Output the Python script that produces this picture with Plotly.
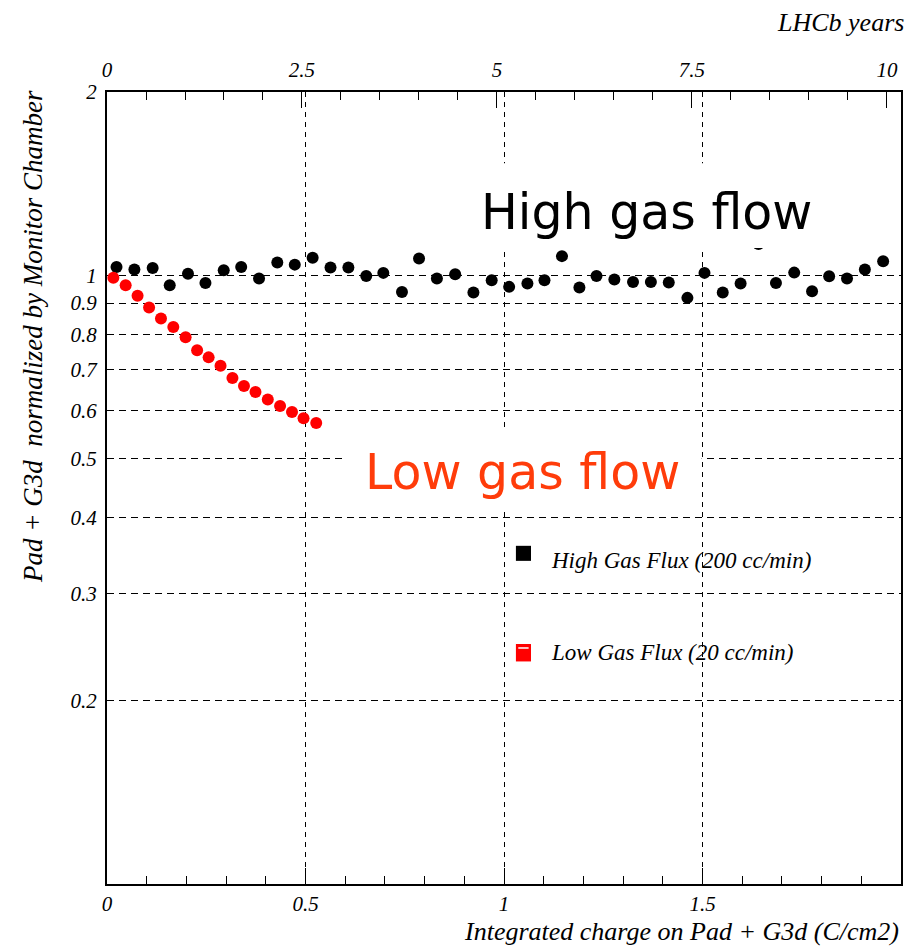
import plotly.graph_objects as go

# Integrated charge (C/cm2) and normalized response, high gas flux run
high_charge = [0.024, 0.069, 0.115, 0.158, 0.204, 0.248, 0.294, 0.338, 0.383, 0.429,
               0.473, 0.518, 0.563, 0.608, 0.653, 0.696, 0.743, 0.786, 0.831, 0.877,
               0.923, 0.969, 1.013, 1.059, 1.102, 1.146, 1.190, 1.233, 1.278, 1.325,
               1.370, 1.415, 1.462, 1.505, 1.551, 1.596, 1.641, 1.685, 1.731, 1.776,
               1.819, 1.864, 1.909, 1.955]
high_ratio = [1.032, 1.022, 1.028, 0.963, 1.006, 0.971, 1.019, 1.032, 0.988, 1.049,
              1.041, 1.068, 1.030, 1.030, 0.997, 1.009, 0.939, 1.065, 0.988, 1.004,
              0.937, 0.981, 0.957, 0.969, 0.981, 1.075, 0.955, 0.997, 0.984, 0.975,
              0.975, 0.973, 0.918, 1.009, 0.937, 0.969, 1.125, 0.971, 1.010, 0.941,
              0.996, 0.988, 1.022, 1.054]

# Low gas flux run
low_charge = [0.016, 0.047, 0.077, 0.106, 0.136, 0.167, 0.198, 0.227, 0.256, 0.286,
              0.316, 0.345, 0.374, 0.405, 0.436, 0.466, 0.495, 0.527]
low_ratio = [0.991, 0.963, 0.925, 0.885, 0.849, 0.822, 0.791, 0.753, 0.733, 0.710,
             0.678, 0.658, 0.643, 0.625, 0.610, 0.596, 0.582, 0.572]

x_ticks = [0, 0.5, 1, 1.5, 2]
x_ticklabels = ["0", "0.5", "1", "1.5", "2"]
y_ticks = [0.2, 0.3, 0.4, 0.5, 0.6, 0.7, 0.8, 0.9, 1, 2]
y_ticklabels = ["0.2", "0.3", "0.4", "0.5", "0.6", "0.7", "0.8", "0.9", "1", "2"]
year_ticks = [0, 2.5, 5, 7.5, 10]
year_ticklabels = ["0", "2.5", "5", "7.5", "10"]

legend_labels = ["High Gas Flux (200 cc/min)", "Low Gas Flux (20 cc/min)"]

SERIF = "Liberation Serif"
tick_font = dict(family=SERIF, size=21, color="black", style="italic")
title_font = dict(family=SERIF, size=26, color="black", style="italic")
legend_font = dict(family=SERIF, size=23, color="black", style="italic")

fig = go.Figure()
fig.add_trace(go.Scatter(x=high_charge, y=high_ratio, mode="markers",
                         marker=dict(symbol="circle", size=12, color="black"),
                         showlegend=False))
fig.add_trace(go.Scatter(x=low_charge, y=low_ratio, mode="markers",
                         marker=dict(symbol="circle", size=12, color="#ff0000"),
                         showlegend=False))
# empty companion trace so the top "LHCb years" axis is drawn
fig.add_trace(go.Scatter(x=year_ticks, y=[None] * len(year_ticks), xaxis="x2",
                         mode="markers", showlegend=False, hoverinfo="skip"))

shapes = [
    # white label panels sitting over the grid
    dict(type="rect", xref="paper", yref="paper", x0=0.456, x1=0.908, y0=0.803, y1=0.910,
         fillcolor="white", line=dict(width=0), layer="above"),
    dict(type="rect", xref="paper", yref="paper", x0=0.302, x1=0.749, y0=0.470, y1=0.577,
         fillcolor="white", line=dict(width=0), layer="above"),
    # legend swatches
    dict(type="rect", xref="paper", yref="paper", x0=0.515, x1=0.534, y0=0.408, y1=0.427,
         fillcolor="black", line=dict(width=0), layer="above"),
    dict(type="rect", xref="paper", yref="paper", x0=0.515, x1=0.534, y0=0.281, y1=0.303,
         fillcolor="#ff0000", line=dict(width=0), layer="above"),
    dict(type="line", xref="paper", yref="paper", x0=0.518, x1=0.531, y0=0.298, y1=0.298,
         line=dict(color="white", width=1.5), layer="above"),
]

annotations = [
    dict(text="High gas flow", xref="paper", yref="paper", x=0.680, y=0.848,
         xanchor="center", yanchor="middle", showarrow=False,
         font=dict(family="DejaVu Sans", size=49, color="black")),
    dict(text="Low gas flow", xref="paper", yref="paper", x=0.523, y=0.520,
         xanchor="center", yanchor="middle", showarrow=False,
         font=dict(family="DejaVu Sans", size=49, color="#ff3c0a")),
    dict(text=legend_labels[0], xref="paper", yref="paper", x=0.557, y=0.408,
         xanchor="left", yanchor="middle", showarrow=False, font=legend_font),
    dict(text=legend_labels[1], xref="paper", yref="paper", x=0.557, y=0.292,
         xanchor="left", yanchor="middle", showarrow=False, font=legend_font),
    dict(text="LHCb years", xref="paper", yref="paper", x=1.006, y=1.088,
         xanchor="right", yanchor="middle", showarrow=False, font=title_font),
    dict(text="Integrated charge on Pad + G3d (C/cm2)", xref="paper", yref="paper",
         x=1.0, y=-0.060, xanchor="right", yanchor="middle", showarrow=False,
         font=title_font),
    dict(text="Pad + G3d \u00a0normalized by Monitor Chamber", xref="paper", yref="paper",
         x=-0.094, y=1.005, xanchor="center", yanchor="top", textangle=-90, showarrow=False,
         font=dict(family=SERIF, size=27, color="black", style="italic")),
]

fig.update_layout(
    width=906, height=948,
    margin=dict(l=107, r=3, t=92, b=64),
    paper_bgcolor="white", plot_bgcolor="white",
    showlegend=False,
    shapes=shapes, annotations=annotations,
    xaxis=dict(range=[0, 2], tickvals=x_ticks, ticktext=x_ticklabels,
               ticks="inside", ticklen=16, tickwidth=1, tickcolor="black",
               minor=dict(dtick=0.1, ticks="inside", ticklen=8, tickcolor="black", showgrid=False),
               showline=True, linecolor="black", linewidth=2, mirror=True,
               showgrid=True, gridcolor="black", gridwidth=1, griddash="5px,5px",
               zeroline=False, tickfont=tick_font),
    xaxis2=dict(range=[0, 10.18], overlaying="x", side="top", anchor="y",
                tickvals=year_ticks, ticktext=year_ticklabels,
                ticks="inside", ticklen=16, tickwidth=1, tickcolor="black",
                minor=dict(dtick=0.5, ticks="inside", ticklen=8, tickcolor="black", showgrid=False),
                showline=False, showgrid=False, zeroline=False, tickfont=tick_font,
                ticklabelstandoff=10),
    yaxis=dict(type="log", range=[-1, 0.30103], tickvals=y_ticks, ticktext=y_ticklabels,
               ticks="", showline=True, linecolor="black", linewidth=2, mirror=True,
               showgrid=True, gridcolor="black", gridwidth=1, griddash="7px,5px",
               zeroline=False, tickfont=tick_font, ticklabelstandoff=4),
)

fig.write_html("out.html")
